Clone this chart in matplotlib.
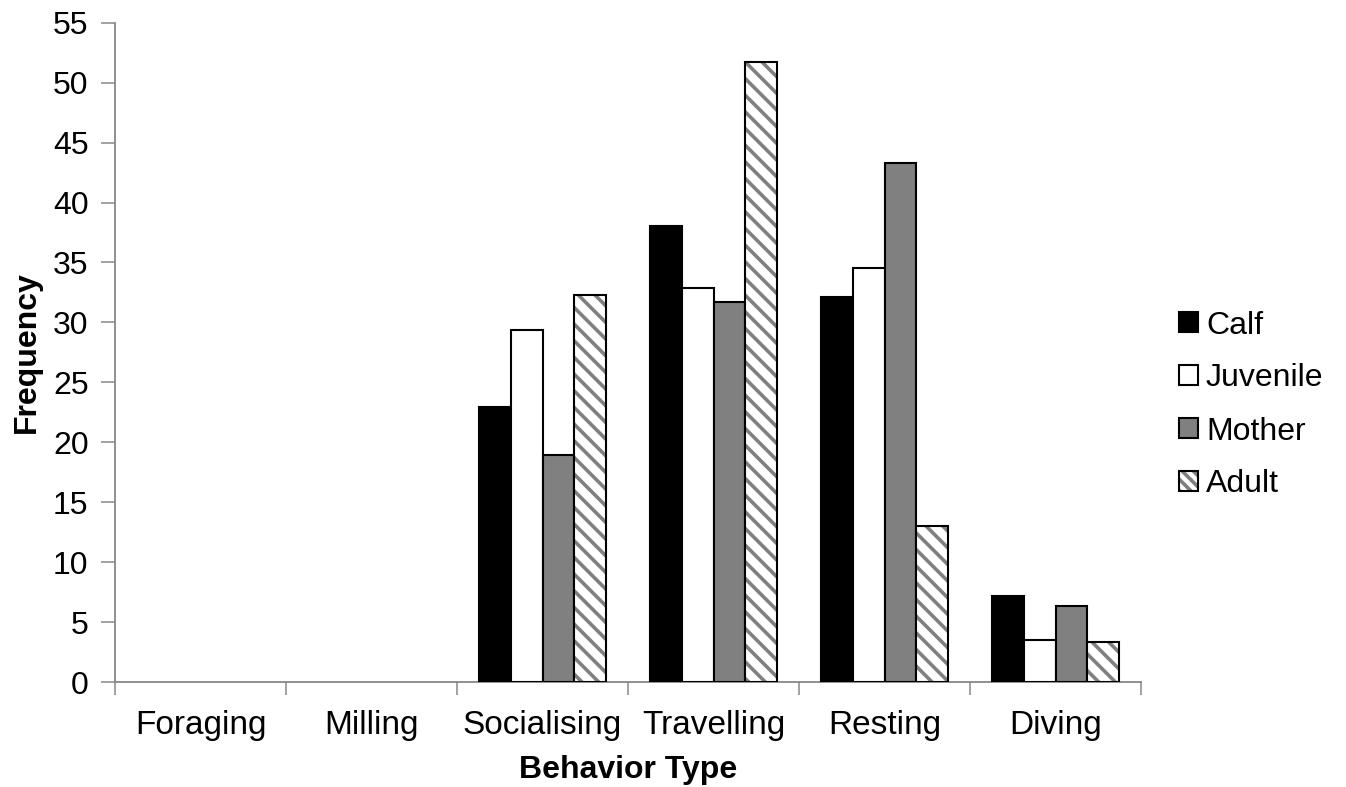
import numpy as np
import matplotlib
matplotlib.use("Agg")
from matplotlib import pyplot as plt
from matplotlib import patches

# データ
behaviors = ["Foraging", "Milling", "Socialising", "Travelling", "Resting", "Diving"]
calf = [0, 0, 22.9, 38.0, 32.1, 7.2]
juvenile = [0, 0, 29.4, 32.9, 34.5, 3.5]
mother = [0, 0, 18.9, 31.7, 43.3, 6.3]
adult = [0, 0, 32.3, 51.7, 13.0, 3.3]
y_ticks = list(range(0, 56, 5))

plt.rcParams["font.family"] = ["Liberation Sans", "DejaVu Sans"]
plt.rcParams["hatch.linewidth"] = 2.6

fig = plt.figure(figsize=(13.46, 7.87), dpi=100)
ax = fig.add_axes([115 / 1346, 1 - 682 / 787, (1141 - 115) / 1346, (682 - 22.7) / 787])

x = np.arange(len(behaviors))
w = 0.186
axis_gray = "#878787"


def edge_widths(vals):
    # 値が0のバーは枠線を描かない
    return [1.5 if v > 0 else 0 for v in vals]


# 単色の系列
for i, (vals, color) in enumerate([(calf, "black"), (juvenile, "white"), (mother, "#808080")]):
    ax.bar(x + (i - 1.5) * w, vals, w, color=color, edgecolor="black",
           linewidth=edge_widths(vals), zorder=3)

# 斜線の系列 (斜線はグレー、枠は黒)
ax.bar(x + 1.5 * w, adult, w, color="white", edgecolor="#808080", hatch="\\\\", linewidth=0, zorder=3)
ax.bar(x + 1.5 * w, adult, w, fill=False, edgecolor="black", linewidth=edge_widths(adult), zorder=4)

ax.set_xlim(-0.5, len(behaviors) - 0.5)
ax.set_ylim(0, 55)
ax.set_yticks(y_ticks)
ax.set_xticks(np.arange(-0.5, len(behaviors)), minor=False)
ax.set_xticklabels([])
ax.set_xticks(x, minor=True)
ax.set_xticklabels(behaviors, minor=True)
ax.tick_params(axis="x", which="minor", length=0, labelsize=24, pad=20)
ax.tick_params(axis="x", which="major", length=9, width=1.1, color=axis_gray)
ax.tick_params(axis="y", length=10, width=1.1, color=axis_gray, labelsize=23, pad=9)

for side in ["top", "right"]:
    ax.spines[side].set_visible(False)
for side in ["left", "bottom"]:
    ax.spines[side].set_color(axis_gray)
    ax.spines[side].set_linewidth(1.3)

ax.set_xlabel("Behavior Type", fontsize=23, fontweight="bold", labelpad=10)
ax.set_ylabel("Frequency", fontsize=23, fontweight="bold", labelpad=8)

# 凡例
handles = [
    patches.Patch(facecolor="black", edgecolor="black", linewidth=1.5),
    patches.Patch(facecolor="white", edgecolor="black", linewidth=1.5),
    patches.Patch(facecolor="#808080", edgecolor="black", linewidth=1.5),
    (
        patches.Patch(facecolor="white", edgecolor="#808080", hatch="\\\\\\", linewidth=0),
        patches.Patch(fill=False, edgecolor="black", linewidth=1.5),
    ),
]
fig.legend(
    handles,
    ["Calf", "Juvenile", "Mother", "Adult"],
    loc="center left",
    bbox_to_anchor=(1150 / 1346, 1 - 405 / 787),
    frameon=False,
    fontsize=23,
    handlelength=0.6,
    handleheight=0.6,
    handletextpad=0.25,
    labelspacing=0.72,
)

fig.savefig("out.png", dpi=100)
